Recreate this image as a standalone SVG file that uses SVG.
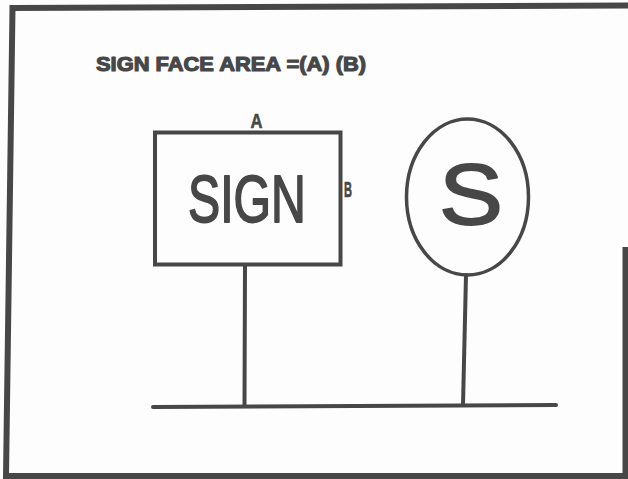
<svg xmlns="http://www.w3.org/2000/svg" width="628" height="479" viewBox="0 0 628 479">
<style>
.ln{fill:none;stroke:#474747;stroke-width:4;stroke-linecap:round;stroke-linejoin:miter}
.tx{fill:#474747;font-family:"Liberation Sans",Arial,sans-serif}
.th{stroke:#474747;stroke-linejoin:round}
</style>
<rect width="628" height="479" fill="#fdfdfd"/>
<g id="frame">
<path d="M12.5,8 L627,5.5 M6,476 L627,476 M625.5,250 L625.5,476 M12.5,8 L6,476" class="ln" style="stroke-width:6;stroke-linecap:square"/>
</g>
<g id="title">
<text class="tx th" x="96" y="71" font-size="21" font-weight="bold" stroke-width="1.2" textLength="270" lengthAdjust="spacingAndGlyphs">SIGN FACE AREA =(A) (B)</text>
</g>
<g id="connectors">
<line class="ln" x1="245" y1="266" x2="244.5" y2="405"/>
<line class="ln" x1="466" y1="275" x2="463" y2="405"/>
<line class="ln" x1="153" y1="407" x2="556" y2="405"/>
</g>
<g id="sign">
<text class="tx th" x="250.5" y="128" font-size="20" font-weight="bold" stroke-width="0.6" textLength="12" lengthAdjust="spacingAndGlyphs">A</text>
<text class="tx th" x="344" y="197" font-size="22" font-weight="bold" stroke-width="0.6" textLength="8" lengthAdjust="spacingAndGlyphs">B</text>
<rect class="ln" x="155" y="132.5" width="185.5" height="132"/>
<text class="tx th" transform="translate(188,222) scale(0.72,1)" x="0" y="0" font-size="67" stroke-width="1.8">SIGN</text>
</g>
<g id="s-sign">
<ellipse class="ln" cx="467.5" cy="197" rx="61" ry="78" style="stroke-width:3.5"/>
<text class="tx th" x="439" y="224" font-size="86" stroke-width="1.8" textLength="64" lengthAdjust="spacingAndGlyphs">S</text>
</g>
</svg>
